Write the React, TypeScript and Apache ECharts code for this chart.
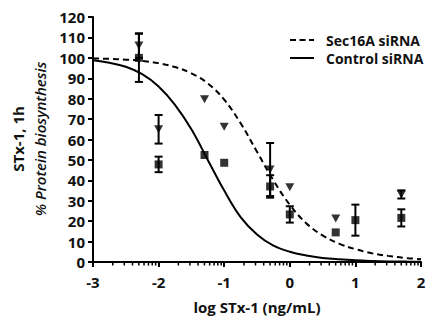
import React, { useEffect, useRef } from "react";
import * as echarts from "echarts";

// Fitted curves at these log doses
const fitX = [-3, -2.75, -2.5, -2.25, -2, -1.75, -1.5, -1.25, -1, -0.75, -0.5, -0.25, 0, 0.25, 0.5, 0.75, 1, 1.25, 1.5, 1.75, 2];
const secFit = [99.7, 99.5, 99.1, 98.5, 97.4, 95.5, 92.4, 87.5, 79.5, 68, 54, 40, 28, 19, 13, 9, 6.3, 4.3, 3, 2, 1.4];
const ctrlFit = [98.8, 97.6, 95.6, 92, 86, 77, 65, 50, 35, 22, 13.5, 8, 5, 3.2, 2, 1.3, 0.8, 0.5, 0.3, 0.2, 0.1];

// Measured points (squares)
const ctrlX = [-2.3, -2, -1.3, -1, -0.3, 0, 0.7, 1, 1.7];
const ctrlY = [100, 47.8, 52.4, 48.6, 37, 23.3, 14.5, 20.5, 21.6];
const ctrlErr = [11.8, 3.8, 0, 0, 5.5, 4, 0, 7.6, 4.2];

// Measured points (inverted triangles)
const secX = [-2.3, -2, -1.3, -1, -0.3, 0, 0.7, 1.7];
const secY = [106, 65, 79.7, 66.3, 45.3, 36.6, 21.3, 33.1];
const secErr = [6, 7, 0, 0, 13, 0, 0, 2];

const yTicks = { min: 0, max: 120, interval: 10 };
const xTicks = { min: -3, max: 2, interval: 1 };
// minor ticks at log10(2..9) within each decade
const minorSteps = [2, 3, 4, 5, 6, 7, 8, 9];

const legendItems = ["Sec16A siRNA", "Control siRNA"];
const xTitle = "log STx-1 (ng/mL)";
const yTitle1 = "STx-1, 1h";
const yTitle2 = "% Protein biosynthesis";

const FONT = "'Open Sans', sans-serif";

export default function App() {
  const ref = useRef<HTMLDivElement>(null);
  useEffect(() => {
    if (!ref.current) return;
    const chart = echarts.init(ref.current, null, { renderer: "svg" });

    const minorTicks: number[][] = [];
    for (let d = xTicks.min; d < xTicks.max; d++) {
      for (const k of minorSteps) minorTicks.push([d + Math.log10(k), 0]);
    }

    const errData = [
      ...ctrlX.map((x, i) => [x, ctrlY[i], ctrlErr[i]]).filter((d) => d[2] > 0),
      ...secX.map((x, i) => [x, secY[i], secErr[i]]).filter((d) => d[2] > 0),
    ];

    const option: any = {
      animation: false,
      grid: { left: 93, right: 13, top: 17, bottom: 60, containLabel: false },
      xAxis: {
        type: "value",
        min: xTicks.min,
        max: xTicks.max,
        interval: xTicks.interval,
        name: xTitle,
        nameLocation: "middle",
        nameGap: 37,
        nameTextStyle: { fontFamily: FONT, fontWeight: "bold", fontSize: 15, color: "#111" },
        axisLine: { show: true, onZero: false, lineStyle: { color: "#000", width: 2 } },
        axisTick: { show: true, inside: false, length: 5, lineStyle: { color: "#000", width: 2 } },
        axisLabel: { margin: 12, fontFamily: FONT, fontWeight: "bold", fontSize: 15, color: "#111" },
        splitLine: { show: false },
      },
      yAxis: {
        type: "value",
        min: yTicks.min,
        max: yTicks.max,
        interval: yTicks.interval,
        axisLine: { show: true, onZero: false, lineStyle: { color: "#000", width: 2 } },
        axisTick: { show: true, inside: false, length: 5, lineStyle: { color: "#000", width: 2 } },
        axisLabel: { margin: 8, fontFamily: FONT, fontWeight: "bold", fontSize: 15, color: "#111" },
        splitLine: { show: false },
      },
      graphic: [
        {
          type: "text",
          x: 18,
          y: 139,
          rotation: Math.PI / 2,
          style: { text: yTitle1, fontFamily: FONT, fontWeight: "bold", fontSize: 15, fill: "#111", textAlign: "center", textVerticalAlign: "middle" },
        },
        {
          type: "text",
          x: 40,
          y: 139,
          rotation: Math.PI / 2,
          style: { text: yTitle2, fontFamily: FONT, fontStyle: "italic", fontWeight: 600, fontSize: 15, fill: "#111", textAlign: "center", textVerticalAlign: "middle" },
        },
        {
          type: "line",
          shape: { x1: 290, y1: 40, x2: 314, y2: 40 },
          style: { stroke: "#000", lineWidth: 2, lineDash: [6, 3.5] },
        },
        {
          type: "text",
          x: 326,
          y: 40,
          style: { text: legendItems[0], fontFamily: FONT, fontWeight: "bold", fontSize: 14, fill: "#111", textAlign: "left", textVerticalAlign: "middle" },
        },
        {
          type: "line",
          shape: { x1: 290, y1: 58, x2: 314, y2: 58 },
          style: { stroke: "#000", lineWidth: 2 },
        },
        {
          type: "text",
          x: 326,
          y: 58,
          style: { text: legendItems[1], fontFamily: FONT, fontWeight: "bold", fontSize: 14, fill: "#111", textAlign: "left", textVerticalAlign: "middle" },
        },
      ],
      series: [
        {
          name: legendItems[0],
          type: "line",
          smooth: 0.4,
          showSymbol: false,
          symbol: "none",
          data: fitX.map((x, i) => [x, secFit[i]]),
          lineStyle: { color: "#000", width: 2, type: [6, 4] },
          z: 2,
        },
        {
          name: legendItems[1],
          type: "line",
          smooth: 0.4,
          showSymbol: false,
          symbol: "none",
          data: fitX.map((x, i) => [x, ctrlFit[i]]),
          lineStyle: { color: "#000", width: 2 },
          z: 2,
        },
        {
          type: "custom",
          data: minorTicks,
          clip: false,
          silent: true,
          z: 5,
          renderItem: (params: any, api: any) => {
            const p = api.coord([api.value(0), yTicks.min]);
            return {
              type: "line",
              shape: { x1: p[0], y1: p[1], x2: p[0], y2: p[1] + 3.5 },
              style: { stroke: "#000", lineWidth: 1.5 },
            };
          },
        },
        {
          type: "custom",
          data: errData,
          z: 3,
          renderItem: (params: any, api: any) => {
            const x = api.value(0);
            const y = api.value(1);
            const e = api.value(2);
            const top = api.coord([x, y + e]);
            const bot = api.coord([x, y - e]);
            const hw = 4;
            const st = { stroke: "#000", lineWidth: 2 };
            return {
              type: "group",
              children: [
                { type: "line", shape: { x1: top[0], y1: top[1], x2: bot[0], y2: bot[1] }, style: st },
                { type: "line", shape: { x1: top[0] - hw, y1: top[1], x2: top[0] + hw, y2: top[1] }, style: st },
                { type: "line", shape: { x1: bot[0] - hw, y1: bot[1], x2: bot[0] + hw, y2: bot[1] }, style: st },
              ],
            };
          },
        },
        {
          type: "scatter",
          symbol: "rect",
          symbolSize: 8,
          data: ctrlX.map((x, i) => [x, ctrlY[i]]),
          itemStyle: { color: "#000" },
          z: 4,
        },
        {
          type: "scatter",
          symbol: "triangle",
          symbolRotate: 180,
          symbolSize: [9, 8],
          data: secX.map((x, i) => [x, secY[i]]),
          itemStyle: { color: "#000" },
          z: 4,
        },
      ],
    };
    chart.setOption(option);
    return () => chart.dispose();
  }, []);

  return <div ref={ref} style={{ position: "fixed", left: 0, top: 0, width: 434, height: 322, background: "#fff" }} />;
}
